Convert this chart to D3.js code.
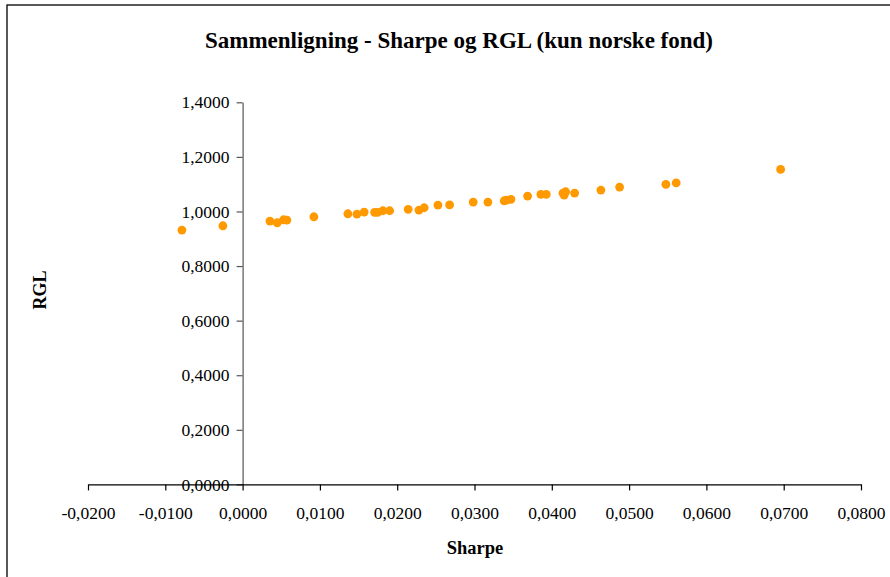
<!DOCTYPE html>
<html>
<head>
<meta charset="utf-8">
<script src="https://cdn.jsdelivr.net/npm/d3@7"></script>
<style>
  html, body { margin: 0; padding: 0; background: #fff; }
  svg { display: block; }
  text { font-family: "Liberation Serif", "Times New Roman", serif; fill: #000; }
</style>
</head>
<body>
<script>
// Sharpe ratio vs. RGL for Norwegian funds
const sharpe = [
  -0.00785, -0.00255, 0.00353, 0.00448, 0.00530, 0.00573, 0.00922,
  0.01362, 0.01479, 0.01573, 0.01708, 0.01746, 0.01815, 0.01902,
  0.02142, 0.02281, 0.02349, 0.02527, 0.02678, 0.02983, 0.03173,
  0.03384, 0.03415, 0.03471, 0.03687, 0.03859, 0.03928, 0.04144,
  0.04179, 0.04160, 0.04295, 0.04635, 0.04877, 0.05476, 0.05609, 0.06960
];
const rgl = [
  0.9319, 0.9476, 0.9648, 0.9586, 0.9696, 0.9685, 0.9806,
  0.9916, 0.9905, 0.9978, 0.9967, 0.9967, 1.0026, 1.0026,
  1.0077, 1.0051, 1.0136, 1.0234, 1.0245, 1.0344, 1.0344,
  1.0392, 1.0418, 1.0443, 1.0564, 1.0626, 1.0626, 1.0674,
  1.0722, 1.0601, 1.0674, 1.0784, 1.0894, 1.0993, 1.1051, 1.1542
];
const xTicks = [-0.02, -0.01, 0, 0.01, 0.02, 0.03, 0.04, 0.05, 0.06, 0.07, 0.08];
const yTicks = [0, 0.2, 0.4, 0.6, 0.8, 1.0, 1.2, 1.4];

const titleText = "Sammenligning - Sharpe og RGL (kun norske fond)";
const xTitle = "Sharpe";
const yTitle = "RGL";

const W = 890, H = 577;
// Norwegian number style: comma decimal, plain hyphen for negatives
const fmt = v => d3.format(".4f")(v).replace(".", ",").replace("\u2212", "-");

const svg = d3.select("body").append("svg").attr("width", W).attr("height", H);

// chart frame
svg.append("rect")
  .attr("x", 7).attr("y", 5).attr("width", 1000).attr("height", 1000)
  .attr("fill", "none").attr("stroke", "#000").attr("stroke-width", 1.3);

const x = d3.scaleLinear().domain([-0.02, 0.08]).range([88, 861]);
const y = d3.scaleLinear().domain([0, 1.4]).range([484.4, 102.3]);

// y axis crosses at Sharpe = 0
const yAxis = svg.append("g")
  .attr("transform", `translate(${x(0)},0)`)
  .call(d3.axisLeft(y).tickValues(yTicks).tickFormat(fmt).tickSize(6).tickSizeOuter(0).tickPadding(7));
yAxis.select(".domain").attr("stroke", "#555").attr("stroke-width", 1.2);
yAxis.selectAll(".tick line").attr("stroke", "#555").attr("stroke-width", 1.2);
yAxis.selectAll("text").attr("font-size", 17.5).attr("font-family", "Liberation Serif").attr("fill", "#000");

// x axis along RGL = 0
const xAxis = svg.append("g")
  .attr("transform", `translate(0,${y(0)})`)
  .call(d3.axisBottom(x).tickValues(xTicks).tickFormat(fmt).tickSize(6).tickSizeOuter(0).tickPadding(16));
xAxis.select(".domain").attr("stroke", "#000").attr("stroke-width", 1.2);
xAxis.selectAll(".tick line").attr("stroke", "#000").attr("stroke-width", 1.2);
xAxis.selectAll("text").attr("font-size", 17.5).attr("font-family", "Liberation Serif").attr("fill", "#000");

// points
svg.append("g").selectAll("circle")
  .data(sharpe.map((s, i) => [s, rgl[i]]))
  .join("circle")
  .attr("cx", d => x(d[0]))
  .attr("cy", d => y(d[1]))
  .attr("r", 4.4)
  .attr("fill", "#FF9900");

// titles
svg.append("text")
  .attr("x", 459).attr("y", 48)
  .attr("text-anchor", "middle")
  .attr("font-size", 23).attr("font-weight", "bold")
  .text(titleText);

svg.append("text")
  .attr("x", 475).attr("y", 554)
  .attr("text-anchor", "middle")
  .attr("font-size", 18.5).attr("font-weight", "bold")
  .text(xTitle);

svg.append("text")
  .attr("transform", "translate(46,290) rotate(-90)")
  .attr("text-anchor", "middle")
  .attr("font-size", 18).attr("font-weight", "bold")
  .text(yTitle);
</script>
</body>
</html>
